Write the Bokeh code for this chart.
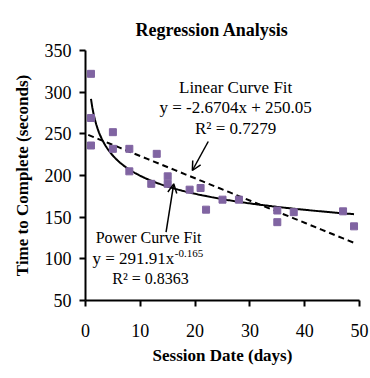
import numpy as np
from bokeh.plotting import figure
from bokeh.models import Arrow, OpenHead, FixedTicker, ColumnDataSource, Range1d
from bokeh.core.properties import value
from bokeh.embed import file_html
from bokeh.resources import INLINE

# Data
days = [1, 1, 1, 5, 5, 8, 8, 12, 13, 15, 15, 19, 21, 22, 25, 28, 35, 35, 38, 47, 49]
times = [322, 269, 236, 252, 232, 232, 205, 190, 226, 199, 190, 183, 185, 159, 171, 171, 158, 144, 156, 157, 139]

# Trendline coefficients (as displayed)
lin_slope, lin_intercept = -2.6704, 250.05
pow_coef, pow_exp = 291.91, -0.165

x_ticks = [0, 10, 20, 30, 40, 50]
y_ticks = [50, 100, 150, 200, 250, 300, 350]

SERIF = "Liberation Serif"

p = figure(frame_width=274, frame_height=250, output_backend="svg", toolbar_location=None,
           x_range=Range1d(0, 50), y_range=Range1d(50, 350),
           min_border_left=85, min_border_right=10, min_border_top=50, min_border_bottom=77)

p.title.text = "Regression Analysis"
p.title.text_font = SERIF
p.title.text_font_size = "18px"
p.title.text_font_style = "bold"
p.title.text_color = "black"
p.title.align = "left"
p.title.offset = 50
p.title.standoff = 22

p.outline_line_color = None
p.grid.visible = False
p.background_fill_color = "white"
p.border_fill_color = "white"

for ax in (p.xaxis[0], p.yaxis[0]):
    ax.axis_line_color = "black"
    ax.axis_line_width = 2
    ax.major_tick_line_color = "black"
    ax.major_tick_line_width = 2
    ax.minor_tick_line_color = None
    ax.major_tick_in = 0
    ax.major_tick_out = 6
    ax.major_label_text_font = SERIF
    ax.major_label_text_font_size = "18px"
    ax.major_label_text_color = "black"
    ax.axis_label_text_font = SERIF
    ax.axis_label_text_font_style = "bold"
    ax.axis_label_text_font_size = "17px"
    ax.axis_label_text_color = "black"

p.xaxis.ticker = FixedTicker(ticks=x_ticks)
p.yaxis.ticker = FixedTicker(ticks=y_ticks)
p.xaxis.axis_label = "Session Date (days)"
p.yaxis.axis_label = "Time to Complete (seconds)"
p.xaxis.major_label_standoff = 17
p.xaxis.axis_label_standoff = 6
p.yaxis.major_label_standoff = 8
p.yaxis.axis_label_standoff = 10

# Trendlines
xl = np.linspace(0.5, 49, 50)
p.line(xl, lin_slope * xl + lin_intercept, line_color="black", line_width=2, line_dash="6 4")
xp = np.linspace(1, 49, 200)
p.line(xp, pow_coef * xp ** pow_exp, line_color="black", line_width=2)

# Points
src = ColumnDataSource(dict(x=days, y=times))
p.scatter("x", "y", source=src, marker="square", size=7, fill_color="#8064A2", line_color="#8064A2")

# Annotations
tf = value(SERIF)
lin_fs = "17px"
p.text(x=[27.4], y=[305.6], text=["Linear Curve Fit"], text_font=tf, text_font_size=lin_fs,
       text_align="center", text_baseline="middle", text_color="black")
p.text(x=[27.4], y=[281.6], text=["y = -2.6704x + 250.05"], text_font=tf, text_font_size=lin_fs,
       text_align="center", text_baseline="middle", text_color="black")
p.text(x=[27.4], y=[257], text=["R² = 0.7279"], text_font=tf, text_font_size=lin_fs,
       text_align="center", text_baseline="middle", text_color="black")

pow_fs = "16px"
p.text(x=[11.5], y=[125.6], text=["Power Curve Fit"], text_font=tf, text_font_size=pow_fs,
       text_align="center", text_baseline="middle", text_color="black")
p.text(x=[16.2], y=[100.4], text=["y = 291.91x"], text_font=tf, text_font_size="17px",
       text_align="right", text_baseline="middle", text_color="black")
p.text(x=[16.3], y=[106], text=["-0.165"], text_font=tf, text_font_size="11px",
       text_align="left", text_baseline="middle", text_color="black")
p.text(x=[4.9], y=[76.4], text=["R² = 0.8363"], text_font=tf, text_font_size=pow_fs,
       text_align="left", text_baseline="middle", text_color="black")

p.add_layout(Arrow(end=OpenHead(size=9, line_width=1.5, line_color="black"),
                   x_start=22.4, y_start=240.8, x_end=19.5, y_end=206,
                   line_width=1.5, line_color="black"))
p.add_layout(Arrow(end=OpenHead(size=9, line_width=1.5, line_color="black"),
                   x_start=14.7, y_start=132, x_end=16.1, y_end=190,
                   line_width=1.5, line_color="black"))

open("out.html", "w").write(file_html(p, INLINE))
